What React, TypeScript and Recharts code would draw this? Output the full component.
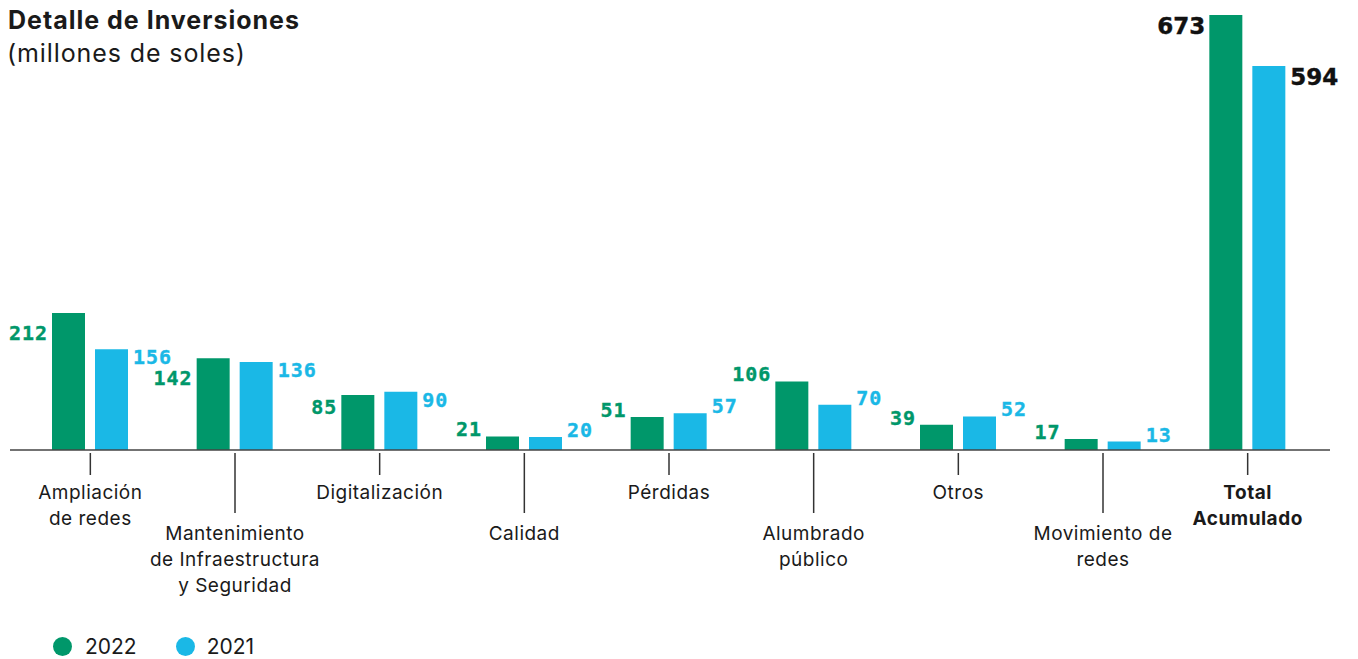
import { BarChart, Bar, XAxis, YAxis, LabelList } from 'recharts';

const categories = [
  'Ampliación\nde redes',
  'Mantenimiento\nde Infraestructura\ny Seguridad',
  'Digitalización',
  'Calidad',
  'Pérdidas',
  'Alumbrado\npúblico',
  'Otros',
  'Movimiento de\nredes',
  'Total\nAcumulado',
];
const values2022 = [212, 142, 85, 21, 51, 106, 39, 17, 673];
const values2021 = [156, 136, 90, 20, 57, 70, 52, 13, 594];
const seriesNames = ['2022', '2021'];

const GREEN = '#00976A';
const BLUE = '#1AB8E6';
const TEXT = '#1a1a1a';
const SANS = 'Inter, "Noto Sans", sans-serif';
const MONO = '"DejaVu Sans Mono", monospace';

const data = categories.map((name, i) => ({
  name,
  y2022: values2022[i],
  y2021: values2021[i],
}));

const lastIndex = categories.length - 1;

// the first groups sit close together, so their labels are pushed below the bar top
function labelDrop(side: 'left' | 'right', i: number) {
  if (i === lastIndex) return 19;
  if (i > 2) return 0;
  if (side === 'right') return 15;
  return i <= 1 ? 27 : 19;
}

function AxisTick(props: any) {
  const { x, y, payload, index } = props;
  const long = index % 2 === 1;
  const isTotal = index === lastIndex;
  const lines: string[] = String(payload.value).split('\n');
  const firstBase = long ? 90 : 49;
  return (
    <g>
      <line x1={x} x2={x} y1={y + 3} y2={y + (long ? 63 : 25)} stroke="#333" strokeWidth={1.5} />
      {lines.map((ln, k) => (
        <text
          key={k}
          x={x}
          y={y + firstBase + k * 26}
          textAnchor="middle"
          fontFamily={SANS}
          fontSize={19}
          letterSpacing={0.5}
          fontWeight={isTotal ? 700 : 400}
          fill={TEXT}
        >
          {ln}
        </text>
      ))}
    </g>
  );
}

function makeLabel(side: 'left' | 'right', color: string) {
  return (props: any) => {
    const { x, y, width, value, index } = props;
    const isTotal = index === lastIndex;
    const tx = side === 'left' ? x - 4 : x + width + 5;
    return (
      <text
        x={tx}
        y={y + labelDrop(side, index)}
        textAnchor={side === 'left' ? 'end' : 'start'}
        fontFamily={isTotal ? '"DejaVu Sans", sans-serif' : MONO}
        fontSize={isTotal ? 23 : 20}
        letterSpacing={isTotal ? 0 : 1}
        fontWeight={700}
        stroke={isTotal ? '#111' : color}
        strokeWidth={0.4}
        fill={isTotal ? '#111' : color}
      >
        {value}
      </text>
    );
  };
}

export default function App() {
  return (
    <div style={{ position: 'absolute', left: 0, top: 0, width: 1358, height: 659, background: '#fff', fontFamily: SANS, color: TEXT }}>
      <div style={{ position: 'absolute', left: 8, top: 4, fontSize: 25, fontWeight: 700, letterSpacing: 1, lineHeight: '32px' }}>
        Detalle de Inversiones
      </div>
      <div style={{ position: 'absolute', left: 7, top: 37, fontSize: 25, fontWeight: 400, letterSpacing: 0.9, lineHeight: '32px' }}>
        (millones de soles)
      </div>
      <BarChart
        width={1358}
        height={659}
        data={data}
        margin={{ top: 15, right: 28, left: 10, bottom: 0 }}
        barSize={33}
        barGap={10}
      >
        <YAxis hide width={0} domain={[0, 673]} />
        <XAxis
          dataKey="name"
          height={209}
          interval={0}
          padding={{ left: 8, right: 10 }}
          axisLine={{ stroke: '#444', strokeWidth: 1.5 }}
          tickLine={false}
          tickSize={0}
          tickMargin={0}
          tick={<AxisTick />}
        />
        <Bar dataKey="y2022" name={seriesNames[0]} fill={GREEN} isAnimationActive={false}>
          <LabelList dataKey="y2022" content={makeLabel('left', GREEN)} />
        </Bar>
        <Bar dataKey="y2021" name={seriesNames[1]} fill={BLUE} isAnimationActive={false}>
          <LabelList dataKey="y2021" content={makeLabel('right', BLUE)} />
        </Bar>
      </BarChart>
      <div style={{ position: 'absolute', left: 53, top: 634, display: 'flex', alignItems: 'center', fontSize: 21 }}>
        <span style={{ width: 19, height: 19, borderRadius: '50%', background: GREEN, display: 'inline-block' }} />
        <span style={{ marginLeft: 13 }}>{seriesNames[0]}</span>
        <span style={{ width: 19, height: 19, borderRadius: '50%', background: BLUE, display: 'inline-block', marginLeft: 39 }} />
        <span style={{ marginLeft: 12 }}>{seriesNames[1]}</span>
      </div>
    </div>
  );
}
